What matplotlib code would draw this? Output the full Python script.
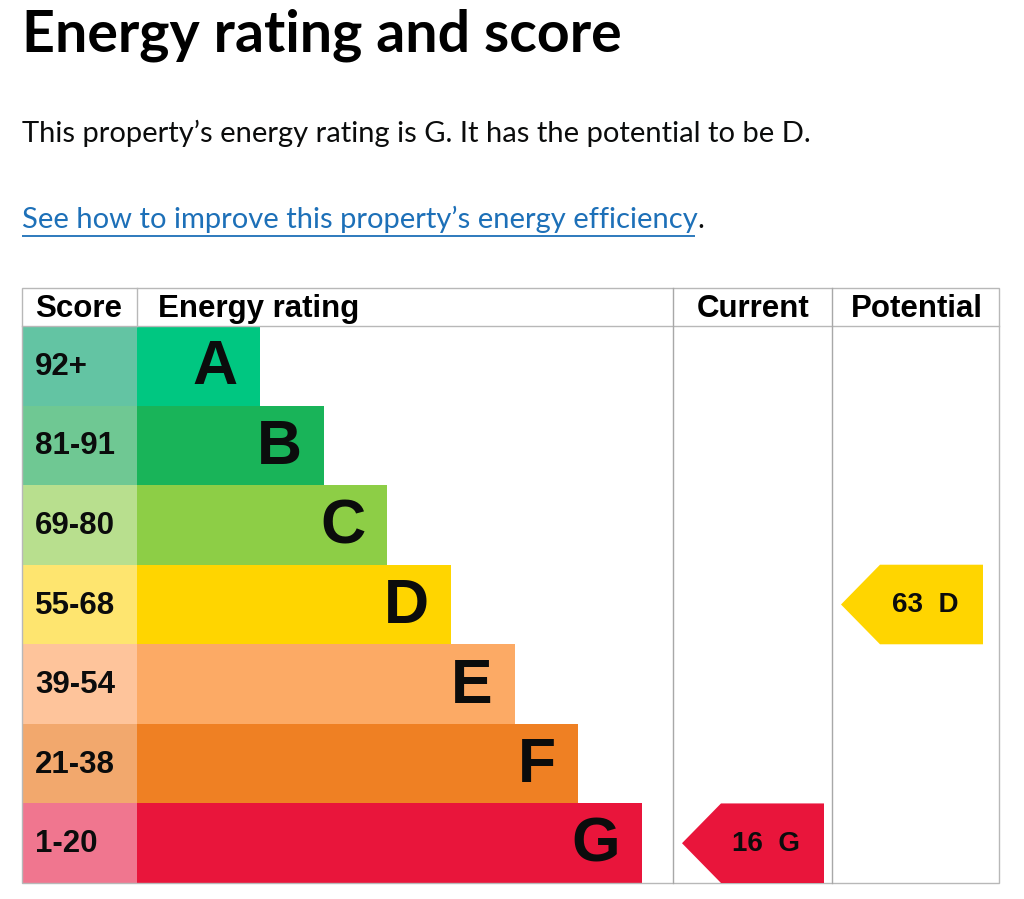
import matplotlib.pyplot as plt
from matplotlib.patches import Polygon, Rectangle

# EPC energy rating chart
bands = ["A", "B", "C", "D", "E", "F", "G"]
score_ranges = ["92+", "81-91", "69-80", "55-68", "39-54", "21-38", "1-20"]
band_colors = ["#00c781", "#19b459", "#8dce46", "#ffd500", "#fcaa65", "#ef8023", "#e9153b"]
range_colors = ["#63c4a3", "#6fc893", "#b8df8e", "#fee56f", "#fec49b", "#f2a86d", "#f0768f"]
headers = ["Score", "Energy rating", "Current", "Potential"]

current_score, current_band = 16, "G"
potential_score, potential_band = 63, "D"

title = "Energy rating and score"
summary = f"This property\u2019s energy rating is {current_band}. It has the potential to be {potential_band}."
link = "See how to improve this property\u2019s energy efficiency"

W, H = 1024, 899
fig = plt.figure(figsize=(W / 100, H / 100), dpi=100)
ax = fig.add_axes([0, 0, 1, 1])
ax.set_xlim(0, W)
ax.set_ylim(H, 0)
ax.axis("off")

body_font = "Liberation Sans"
head_font = ["Lato", "DejaVu Sans"]
link_blue = "#1d70b8"
grid = "#b8b8b8"
ink = "#0b0c0c"

# table geometry (pixels)
left, right = 22, 999
top, head_bot, bottom = 288, 326, 883
col_x = [22, 137, 673, 832, 999]
row_h = (bottom - head_bot) / len(bands)
bar_first, bar_step = 123, 63.67
arrow_w, arrow_notch = 142, 39

fig.canvas.draw()
renderer = fig.canvas.get_renderer()


def fit(txt, width):
    w = txt.get_window_extent(renderer).width
    txt.set_fontsize(txt.get_fontsize() * width / w)


t = ax.text(left, 52, title, fontsize=40, fontweight="bold", family=head_font, va="baseline")
fit(t, 600)
t = ax.text(left, 142, summary, fontsize=22, family=head_font, va="baseline", color=ink)
fit(t, 786)
t = ax.text(left, 228, link, fontsize=22, family=head_font, va="baseline", color=link_blue)
fit(t, 673)
ax.text(697, 228, ".", fontsize=t.get_fontsize(), family=head_font, va="baseline", color=ink)
ax.plot([left, 695], [236, 236], color=link_blue, lw=1.3, solid_capstyle="butt")

# rows
rows = list(range(len(bands)))
centers = [head_bot + row_h * (i + 0.5) for i in rows]
ax.barh(centers, [col_x[1] - col_x[0]] * len(rows), left=col_x[0], height=row_h,
        color=range_colors, linewidth=0)
bar_w = [bar_first + bar_step * i for i in rows]
ax.barh(centers, bar_w, left=col_x[1], height=row_h, color=band_colors, linewidth=0)

for i in rows:
    ax.text(col_x[0] + 13, centers[i] + 1, score_ranges[i], fontsize=22.5, fontweight="bold",
            family=body_font, va="center", ha="left", color=ink)
    ax.text(col_x[1] + bar_w[i] - 22, centers[i] + 2, bands[i], fontsize=45, fontweight="bold",
            family=body_font, va="center", ha="right", color=ink)

# borders
ax.add_patch(Rectangle((left, top), right - left, bottom - top, fill=False, ec=grid, lw=1))
ax.plot([left, right], [head_bot, head_bot], color=grid, lw=1)
ax.plot([col_x[1], col_x[1]], [top, head_bot], color=grid, lw=1)
for x in col_x[2:4]:
    ax.plot([x, x], [top, bottom], color="#a8a8a8", lw=1)

# headers
hy = (top + head_bot) / 2 + 2
ax.text(col_x[0] + 13, hy, headers[0], fontsize=22.5, fontweight="bold", family=body_font, va="center")
ax.text(col_x[1] + 21, hy, headers[1], fontsize=22.5, fontweight="bold", family=body_font, va="center")
for j in (2, 3):
    ax.text((col_x[j] + col_x[j + 1]) / 2 + 1, hy, headers[j], fontsize=22.5, fontweight="bold",
            family=body_font, va="center", ha="center")


def arrow(col, score, band):
    i = bands.index(band)
    y0, y1 = head_bot + row_h * i, head_bot + row_h * (i + 1)
    x0 = col_x[col] + 9
    pts = [(x0, (y0 + y1) / 2), (x0 + arrow_notch, y0), (x0 + arrow_w, y0),
           (x0 + arrow_w, y1), (x0 + arrow_notch, y1)]
    ax.add_patch(Polygon(pts, closed=True, fc=band_colors[i], ec="none"))
    ax.text(x0 + arrow_w - 24, (y0 + y1) / 2 + 1, f"{score}  {band}", fontsize=20,
            fontweight="bold", family=body_font, va="center", ha="right", color=ink)


arrow(2, current_score, current_band)
arrow(3, potential_score, potential_band)

fig.savefig("out.png", dpi=100)
